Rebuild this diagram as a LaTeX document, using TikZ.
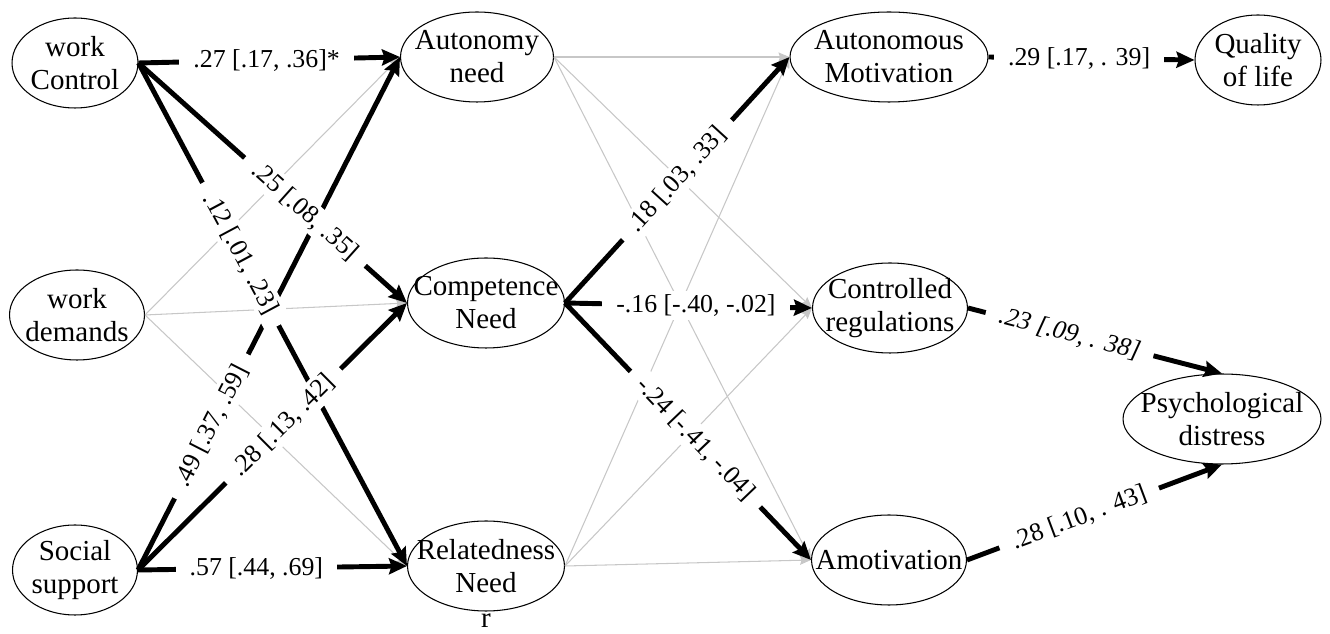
\documentclass[tikz,border=0pt]{standalone}
\usepackage{fontspec}
\setmainfont{Liberation Serif}
\usetikzlibrary{shapes.geometric,arrows.meta}

\tikzset{
  var/.style={ellipse,draw,line width=0.6pt,inner sep=0pt,minimum height=1.8cm},
  vtxt/.style={align=center,inner sep=0pt,font=\fontsize{16.5}{18.8}\selectfont},
  sig/.style={line width=2.8pt,-{Stealth[length=3.6mm,width=3.2mm,inset=0.5mm]}},
  ns/.style={line width=0.6pt,draw=black!22,-{Stealth[length=2.2mm,width=1.8mm,inset=0.3mm]}},
  coef/.style={fill=white,inner xsep=8pt,inner ysep=2pt,font=\fontsize{14.7}{16}\selectfont},
  coefit/.style={coef,font=\fontsize{14.7}{16}\selectfont\itshape}
}

\begin{document}
\begin{tikzpicture}[x=0.02cm,y=-0.02cm,line join=round]
  \useasboundingbox (0,0) rectangle (1330,634);

  %--- Predictors ----------------------------------------------------------
  \node[var,minimum width=2.52cm,label={[vtxt]center:work\\Control}] (ctl) at (75,63) {};
  \node[var,minimum width=2.7cm,label={[vtxt]center:work\\demands}] (dem) at (77,315) {};
  \node[var,minimum width=2.5cm,label={[vtxt]center:Social\\support}] (soc) at (75,570) {};

  %--- Needs ---------------------------------------------------------------
  \node[var,minimum width=3.06cm,label={[vtxt]center:Autonomy\\need}] (aut) at (477,57) {};
  \node[var,minimum width=3.14cm,label={[vtxt]center:Competence\\Need}] (com) at (486,303) {};
  \node[var,minimum width=3.14cm,label={[vtxt]center:Relatedness\\Need}] (rel) at (486,566) {};
  \node[vtxt] (r) at (486,621) {r};

  %--- Motivation ----------------------------------------------------------
  \node[var,minimum width=3.96cm,label={[vtxt]center:Autonomous\\Motivation}] (autmot) at (889,57) {};
  \node[var,minimum width=3.1cm,label={[vtxt]center:Controlled\\regulations}] (creg) at (890,308) {};
  \node[var,minimum width=3.1cm,label={[vtxt]center:Amotivation}] (amo) at (889,560) {};

  %--- Outcomes ------------------------------------------------------------
  \node[var,minimum width=2.52cm,label={[vtxt]center:Quality\\of life}] (qol) at (1258,60) {};
  \node[var,minimum width=3.96cm,label={[vtxt]center:Psychological\\distress}] (psy) at (1222,419) {};

  % non significant paths
  \foreach \s/\t in {dem/aut,dem/com,dem/rel,aut/autmot,aut/creg,aut/amo,rel/autmot,rel/creg,rel/amo}
    \draw[ns] (\s.east) -- (\t.west);

  % significant paths
  \foreach \s/\t in {ctl/aut,ctl/com,ctl/rel,soc/aut,soc/com,soc/rel,com/autmot,com/creg,com/amo,autmot/qol}
    \draw[sig] (\s.east) -- (\t.west);
  \draw[sig] (creg.east) -- (psy.north);
  \draw[sig] (amo.east) -- (psy.south);

  %--- Coefficients on top -------------------------------------------------
  \path (ctl.east) -- (aut.west) node[coef,pos=.49] {.27 [.17, .36]*};
  \path (ctl.east) -- (com.west) node[coef,sloped,pos=.62] {.25 [.08, .35]};
  \path (ctl.east) -- (rel.west) node[coef,sloped,pos=.38] {.12 [.01, .23]};
  \path (soc.east) -- (aut.west) node[coef,sloped,pos=.28] {.49 [.37, .59]};
  \path (soc.east) -- (com.west) node[coef,sloped,pos=.54] {.28 [.13, .42]};
  \path (soc.east) -- (rel.west) node[coef,pos=.44] {.57 [.44, .69]};
  \path (com.east) -- (autmot.west) node[coef,sloped,pos=.5] {.18 [.03, .33]};
  \path (com.east) -- (creg.west) node[coef,pos=.53] {-.16 [-.40, -.02]};
  \path (com.east) -- (amo.west) node[coef,sloped,pos=.53] {-.24 [-.41, -.04]};
  \path (autmot.east) -- (qol.west) node[coef,pos=.44] {.29 [.17, . 39]};
  \path (creg.east) -- (psy.north) node[coefit,sloped,pos=.4] {.23 [.09, . 38]};
  \path (amo.east) -- (psy.south) node[coef,sloped,pos=.44] {.28 [.10, . 43]};
\end{tikzpicture}
\end{document}
